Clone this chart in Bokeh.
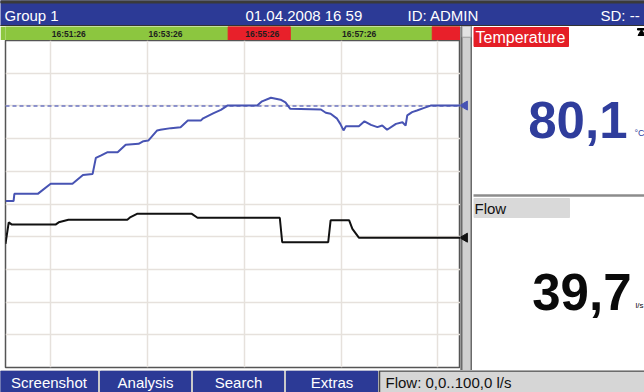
import math
from bokeh.plotting import figure
from bokeh.models import Range1d, FixedTicker, Grid
from bokeh.layouts import column, row
from bokeh.embed import file_html
from bokeh.resources import INLINE
from bokeh.core.properties import value

# ---------------- data ----------------
# time axis: seconds after 16:50:00
t_start, t_end = 30, 594
grid_times = [86, 206, 326, 446, 566]
tick_times = [86, 206, 326, 446]
tick_labels = ["16:51:26", "16:53:26", "16:55:26", "16:57:26"]

# alarm (red) intervals in the time bar
alarm_start = [306, 559]
alarm_end = [383, 594]

# value axis (percent of scale: Temperature 0..100 °C, Flow 0..100 l/s)
y_min, y_max = 0, 100
value_grid = [10, 20, 30, 40, 50, 60, 70, 80, 90]

temp_t = [30, 40, 41, 70, 86, 113, 126, 138, 142, 148, 156, 169, 179, 195, 201, 207,
          218, 222, 235, 247, 256, 272, 275, 288, 297, 305, 342, 348, 359, 371, 377,
          383, 421, 427, 433, 441, 445, 449, 452, 468, 475, 483, 491, 497, 503, 514,
          522, 526, 528, 534, 540, 549, 557, 594]
temp_v = [50.9, 50.9, 53.1, 53.1, 56.2, 56.2, 58.9, 59.2, 64.1, 64.8, 65.8, 65.8,
          68.1, 68.4, 69.2, 69.4, 72.5, 72.7, 73.2, 73.5, 75.5, 75.5, 76.2, 77.8,
          78.8, 80.1, 80.1, 81.4, 82.5, 81.9, 81.1, 79.1, 78.9, 77.9, 77.6, 76.1,
          74.5, 72.5, 73.8, 73.8, 75.3, 74.2, 73.5, 74.0, 72.7, 74.5, 75.0, 74.0,
          77.1, 78.1, 78.6, 79.4, 80.1, 80.1]
temp_limit = 80.0

flow_t = [30, 34, 38, 92, 96, 108, 181, 185, 193, 261, 268, 370, 373, 430, 433,
          456, 460, 468, 594]
flow_v = [37.8, 44.4, 43.7, 43.7, 44.4, 45.2, 45.2, 46.0, 47.0, 47.0, 45.8, 45.8,
          38.3, 38.3, 45.0, 45.0, 42.4, 39.7, 39.7]

temp_text = "80,1"
flow_text = "39,7"
header_texts = ["Group 1", "01.04.2008 16 59", "ID: ADMIN", "SD: --"]
button_texts = ["Screenshot", "Analysis", "Search", "Extras"]
status_text = "Flow: 0,0..100,0 l/s"

# ---------------- styles / geometry ----------------
FONT = value("Liberation Sans")
BLUE_BAR = "#2c3a96"
GREEN = "#8cc63f"
RED = "#e8202a"
LINE_BLUE = "#4753b3"
NUM_BLUE = "#2f3d9c"
GRID_C = "#e6e1dc"
DIV_GREY = "#d0d0d0"
TB_H, CHART_H, CHART_BOT = 14, 330, 3
FRAME_H = CHART_H - CHART_BOT


def base(width, height, xr, yr, **kw):
    p = figure(width=width, height=height, x_range=xr, y_range=yr,
               x_axis_type=None, y_axis_type=None, toolbar_location=None,
               output_backend="svg", min_border=0, **kw)
    p.outline_line_color = None
    return p


# ---------- header ----------
hdr = base(644, 26, Range1d(0, 644), Range1d(26, 0))
hdr.background_fill_color = BLUE_BAR
hdr.border_fill_color = BLUE_BAR
hdr.quad(left=0, right=644, top=0, bottom=2.5, color="#3b3b3b")
hdr.quad(left=0, right=644, top=25, bottom=26, color="#333333")
hdr.text(x=[4, 245, 407, 600], y=[14.5] * 4, text=header_texts,
         text_color="white", text_font=FONT, text_font_size="15px",
         text_baseline="middle", text_align="left")

# ---------- shared ranges ----------
xr = Range1d(t_start, t_end)
yr = Range1d(y_min, y_max)

# ---------- time bar ----------
tb = base(460, TB_H, xr, Range1d(0, 1), min_border_left=5)
tb.background_fill_color = GREEN
tb.border_fill_color = GREEN
tb.quad(left=alarm_start, right=alarm_end, bottom=0, top=1, color=RED)
tb.text(x=tick_times, y=[0.5] * len(tick_times), text=tick_labels,
        text_color="#1e1e1e", text_font=FONT, text_font_size="8.5px",
        text_font_style="bold", text_baseline="middle", text_align="left",
        x_offset=1)

# ---------- chart ----------
ch = base(460, CHART_H, xr, yr, min_border_left=5, min_border_bottom=CHART_BOT)
ch.background_fill_color = "white"
ch.border_fill_color = "white"
ch.outline_line_color = "#555555"
ch.outline_line_width = 1.5
ch.add_layout(Grid(dimension=0, ticker=FixedTicker(ticks=grid_times),
                   grid_line_color=GRID_C, grid_line_width=1.5), "center")
ch.add_layout(Grid(dimension=1, ticker=FixedTicker(ticks=value_grid),
                   grid_line_color=GRID_C, grid_line_width=1.5), "center")
ch.line([t_start, t_end], [temp_limit, temp_limit], line_color="#6c74c2",
        line_width=1.5, line_dash="4 3")
ch.line(flow_t, flow_v, line_color="#111111", line_width=2)
ch.line(temp_t, temp_v, line_color=LINE_BLUE, line_width=2)

# ---------- divider with end markers (same value scale as the chart) ----------
span = y_max - y_min
dv_range = Range1d(y_min - span * CHART_BOT / FRAME_H, y_max + span * TB_H / FRAME_H)
dv = base(12, TB_H + CHART_H, Range1d(0, 12), dv_range)
dv.background_fill_color = DIV_GREY
dv.border_fill_color = DIV_GREY
dv.quad(left=[0, 10.5], right=[1.5, 12], bottom=dv_range.start, top=dv_range.end,
        color="#6a6a6a")
dv.quad(left=1.5, right=10.5, bottom=y_max + 1, top=dv_range.end,
        fill_color="#e2e2e2", line_color="#9a9a9a")
dv.scatter(x=[4.3], y=[temp_v[-1]], marker="triangle", size=9, angle=math.pi / 2,
           fill_color=LINE_BLUE, line_color=LINE_BLUE)
dv.scatter(x=[4.3], y=[flow_v[-1]], marker="triangle", size=9, angle=math.pi / 2,
           fill_color="#111111", line_color="#111111")

# ---------- right value panel ----------
rp = base(172, TB_H + CHART_H, Range1d(472, 644), Range1d(370, 26))
rp.background_fill_color = "white"
rp.border_fill_color = "white"
rp.quad(left=473.5, right=568, top=27, bottom=46, color="#e41e26")
rp.text(x=[475], y=[36.5], text=["Temperature"], text_color="white", text_font=FONT,
        text_font_size="16px", text_baseline="middle")
rp.quad(left=637, right=645, top=28, bottom=29.5, color="black")
rp.scatter(x=[641], y=[33], marker="triangle", size=7, color="black")
rp.text(x=[627], y=[119.5], text=[temp_text], text_color=NUM_BLUE, text_font=FONT,
        text_font_size="51px", text_font_style="bold", text_align="right",
        text_baseline="middle")
rp.text(x=[634], y=[132], text=["°C"], text_color=NUM_BLUE, text_font=FONT,
        text_font_size="9px", text_baseline="middle")
rp.segment(x0=[473], y0=[195], x1=[644], y1=[195], line_color="#8c8c8c", line_width=2.5)
rp.quad(left=473.5, right=569, top=198, bottom=217, color="#d9d9d9")
rp.text(x=[474], y=[207.5], text=["Flow"], text_color="#111111", text_font=FONT,
        text_font_size="15px", text_baseline="middle")
rp.text(x=[631], y=[291.5], text=[flow_text], text_color="#0a0a0a", text_font=FONT,
        text_font_size="51px", text_font_style="bold", text_align="right",
        text_baseline="middle")
rp.text(x=[635], y=[305], text=["l/s"], text_color="#0a0a0a", text_font=FONT,
        text_font_size="8px", text_baseline="middle")

# ---------- footer ----------
ft = base(644, 22, Range1d(0, 644), Range1d(392, 370))
ft.background_fill_color = "#c9c9c9"
ft.border_fill_color = "#c9c9c9"
ft.quad(left=[0, 100, 193, 286], right=[97, 190, 283, 377], top=370.5, bottom=392,
        color=BLUE_BAR)
ft.text(x=[48.5, 145, 238, 331.5], y=[381.5] * 4, text=button_texts,
        text_color="white", text_font=FONT, text_font_size="15px",
        text_align="center", text_baseline="middle")
ft.quad(left=379, right=645, top=370.5, bottom=393, fill_color="#d6d6d6",
        line_color="#4a4a4a", line_width=1.5)
ft.text(x=[385], y=[381.5], text=[status_text], text_color="#111111", text_font=FONT,
        text_font_size="15px", text_baseline="middle")

layout = column(hdr, row(column(tb, ch), dv, rp), ft)

open("out.html", "w").write(file_html(layout, INLINE))
